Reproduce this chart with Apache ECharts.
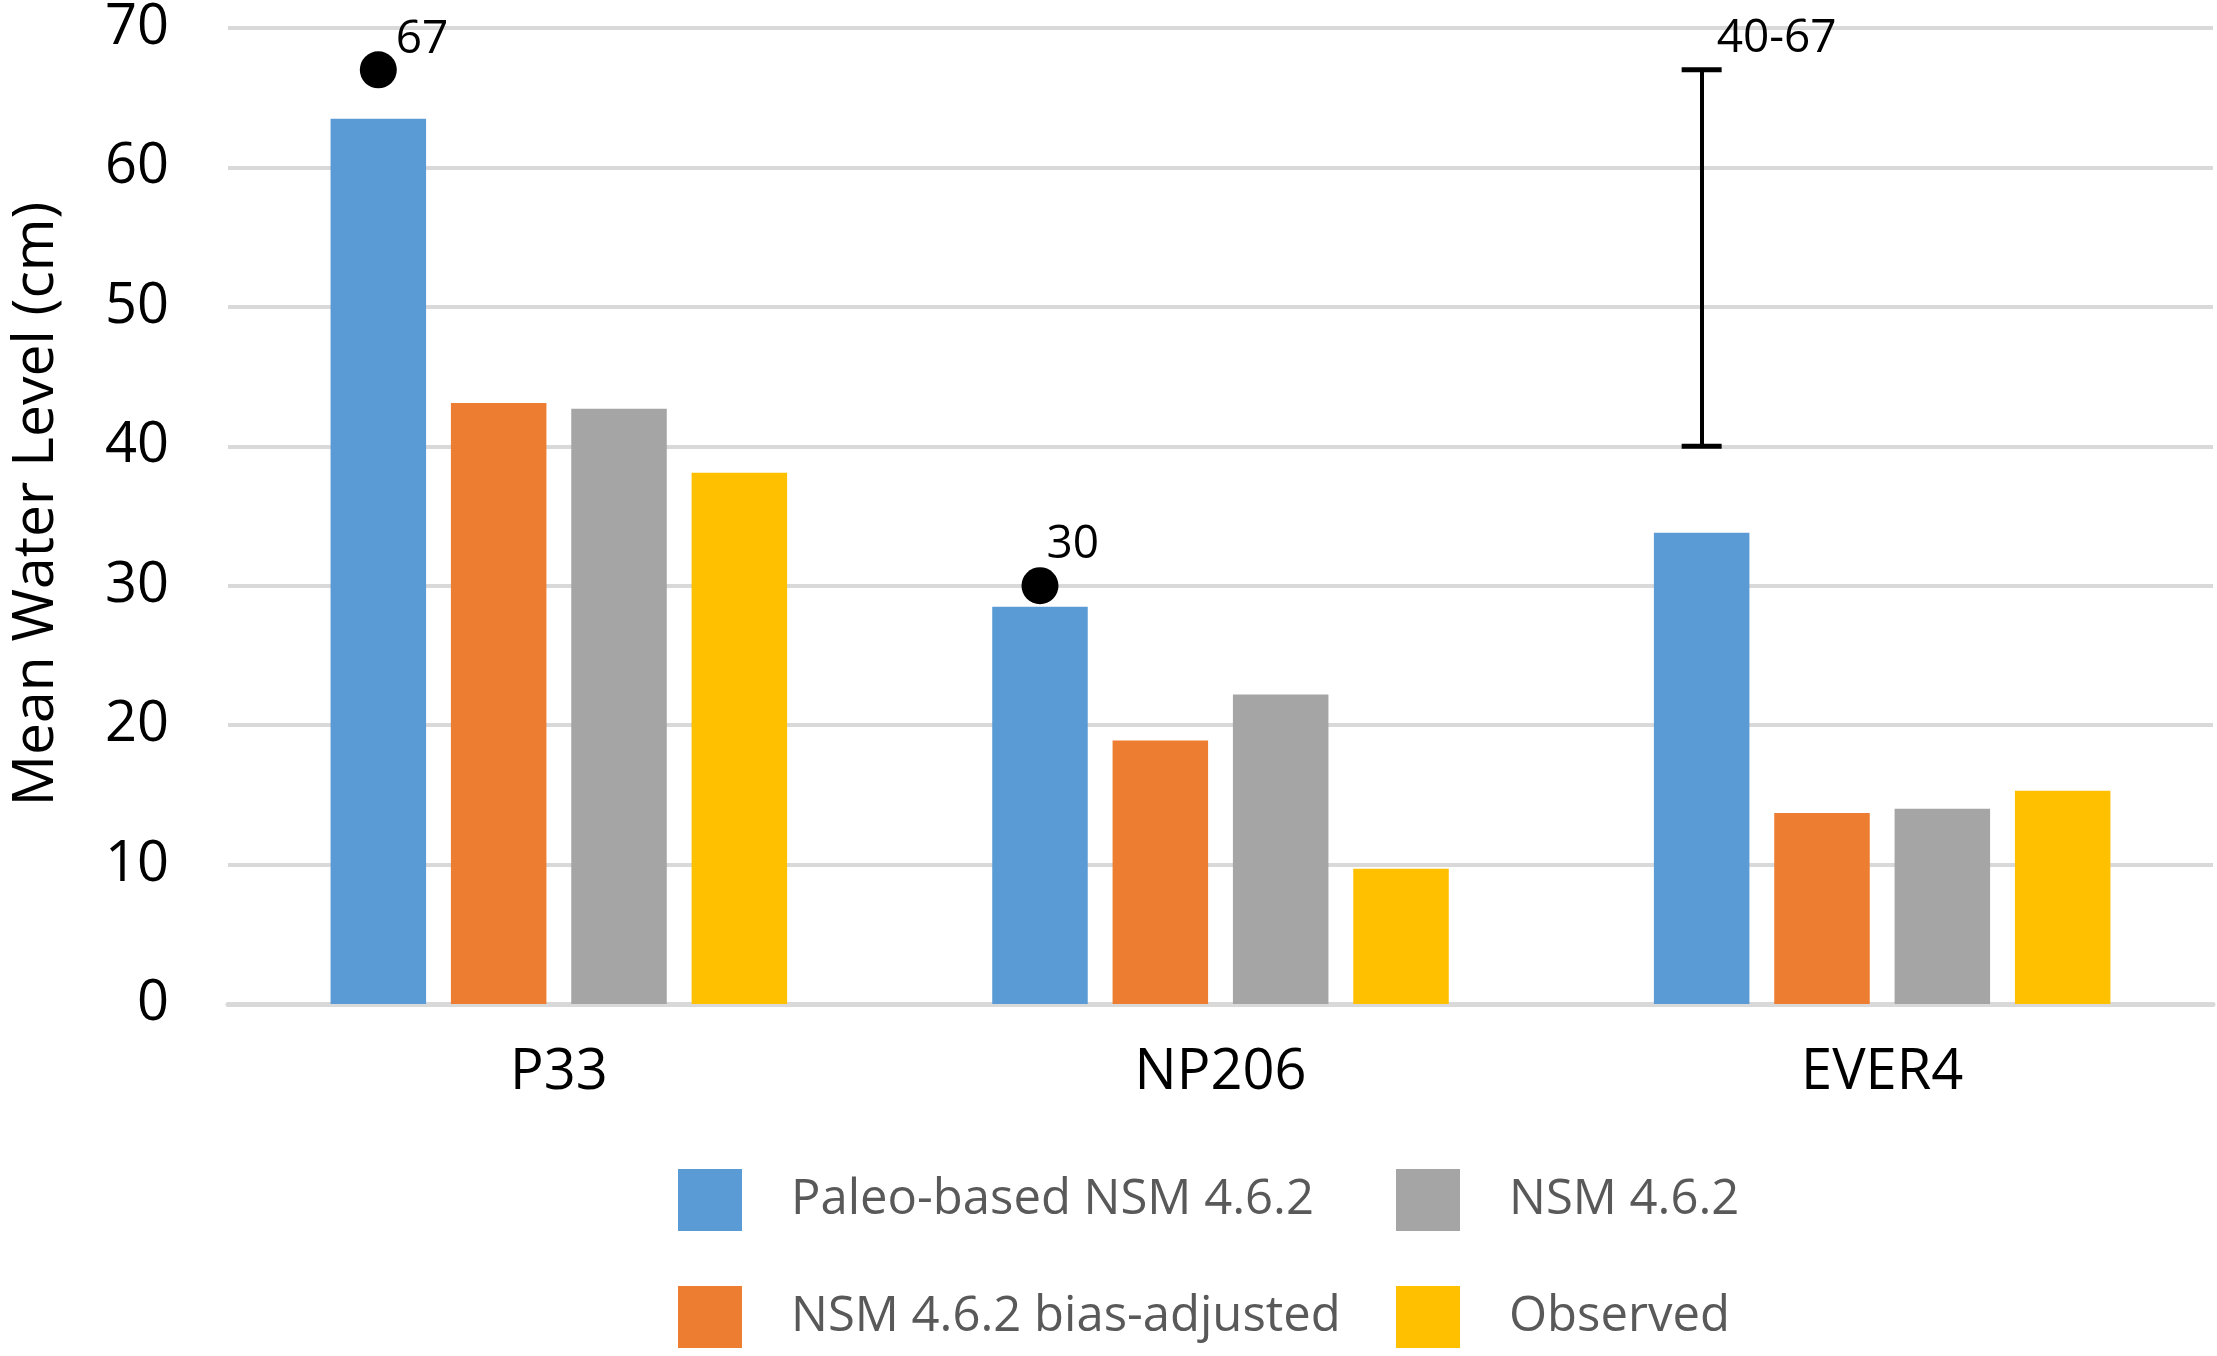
<!DOCTYPE html>
<html>
<head>
<meta charset="utf-8">
<script src="https://cdn.jsdelivr.net/npm/echarts@6/dist/echarts.min.js"></script>
<style>
html,body{margin:0;padding:0;background:#fff;}
#chart{width:2217px;height:1356px;}
</style>
</head>
<body>
<div id="chart"></div>
<script>
// ---- data ----
const categories = ['P33', 'NP206', 'EVER4'];
const seriesNames = ['Paleo-based NSM 4.6.2', 'NSM 4.6.2 bias-adjusted', 'NSM 4.6.2', 'Observed'];
const paleoBased = [63.5, 28.5, 33.8];
const biasAdjusted = [43.1, 18.9, 13.7];
const nsm462 = [42.7, 22.2, 14.0];
const observed = [38.1, 9.7, 15.3];
const pointCategories = ['P33', 'NP206'];
const pointValues = [67, 30];
const rangeCategory = 'EVER4';
const rangeLow = 40;
const rangeHigh = 67;
const yMin = 0, yMax = 70, yStep = 10;

// ---- styles ----
const FONT = '"Open Sans", sans-serif';
const colors = ['#5B9BD5', '#ED7D31', '#A5A5A5', '#FFC000'];
const gridColor = '#D9D9D9';

const pointLabelPos = [[36, -11.5], [25, -22.5]];

const markPointData = pointCategories.map((c, i) => ({
  coord: [c, pointValues[i]],
  value: pointValues[i],
  symbol: 'circle',
  symbolSize: 37,
  itemStyle: { color: '#000' },
  label: {
    show: true, formatter: String(pointValues[i]),
    position: pointLabelPos[i], align: 'left', verticalAlign: 'middle',
    color: '#000', fontSize: 46, fontFamily: FONT
  }
}));
markPointData.push({
  coord: [rangeCategory, rangeHigh],
  value: rangeHigh,
  symbol: 'circle',
  symbolSize: 2,
  itemStyle: { color: 'rgba(0,0,0,0)' },
  label: {
    show: true, formatter: rangeLow + '-' + rangeHigh,
    position: [16, -30], align: 'left', verticalAlign: 'middle',
    color: '#000', fontSize: 46, fontFamily: FONT
  }
});

const valueArrays = [paleoBased, biasAdjusted, nsm462, observed];
const series = valueArrays.map((arr, i) => {
  const s = {
    name: seriesNames[i],
    type: 'bar',
    data: arr,
    barCategoryGap: '31%',
    barGap: '26%',
    itemStyle: { color: colors[i] },
    emphasis: { disabled: true }
  };
  if (i === 0) {
    s.markPoint = {
      silent: true,
      animation: false,
      data: markPointData
    };
    s.markLine = {
      silent: true,
      animation: false,
      symbol: ['rect', 'rect'],
      symbolSize: [40, 5],
      symbolRotate: 0,
      label: { show: false },
      lineStyle: { color: '#000', width: 4, type: 'solid' },
      emphasis: { disabled: true },
      data: [[{ coord: [rangeCategory, rangeLow] }, { coord: [rangeCategory, rangeHigh] }]]
    };
  }
  return s;
});

const legendCommon = {
  orient: 'vertical',
  icon: 'rect',
  itemWidth: 64,
  itemHeight: 62,
  itemGap: 55,
  selectedMode: false,
  textStyle: { color: '#595959', fontSize: 49, fontFamily: FONT, padding: [0, 0, 0, 44] }
};

const option = {
  animation: false,
  backgroundColor: '#fff',
  textStyle: { fontFamily: FONT },
  grid: { left: 222, right: 4, top: 23, bottom: 352, containLabel: false },
  legend: [
    Object.assign({}, legendCommon, { left: 673, top: 1164, data: [seriesNames[0], seriesNames[1]] }),
    Object.assign({}, legendCommon, { left: 1391, top: 1164, data: [seriesNames[2], seriesNames[3]] })
  ],
  xAxis: {
    type: 'category',
    data: categories,
    axisLine: { show: true, lineStyle: { color: gridColor, width: 5 } },
    axisTick: { show: false },
    axisLabel: { color: '#000', fontSize: 56, fontFamily: FONT, margin: 41 }
  },
  yAxis: {
    type: 'value',
    min: yMin, max: yMax, interval: yStep,
    name: 'Mean Water Level (cm)',
    nameLocation: 'middle',
    nameGap: 163,
    nameTextStyle: { color: '#000', fontSize: 57, fontFamily: FONT, padding: [0, 0, 0, 24] },
    axisLine: { show: false },
    axisTick: { show: false },
    axisLabel: { color: '#000', fontSize: 56, fontFamily: FONT, margin: 59 },
    splitLine: { show: true, lineStyle: { color: gridColor, width: 4 } }
  },
  series: series
};

const chart = echarts.init(document.getElementById('chart'), null, { renderer: 'canvas' });
chart.setOption(option);
</script>
</body>
</html>
